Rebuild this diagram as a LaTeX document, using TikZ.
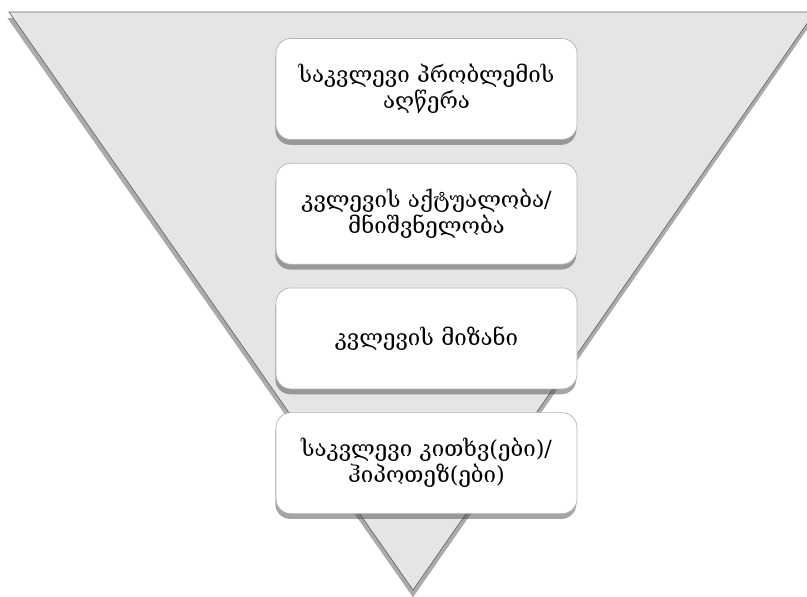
\documentclass[tikz,border=0pt]{standalone}
\usepackage{fontspec}
\newfontfamily\geofont{DejaVu Serif}
\usetikzlibrary{positioning,shadows}

\definecolor{funnelgray}{HTML}{E5E5E5}
\definecolor{funneledge}{HTML}{6A6A6A}
\definecolor{boxedge}{HTML}{B4B4B4}

\tikzset{
  stepbox/.style={draw=boxedge, line width=0.6pt, fill=white, rounded corners=0.45cm,
    minimum width=9.03cm, minimum height=3.03cm, align=center, text width=8.6cm,
    font=\geofont\fontsize{19}{22}\selectfont,
    drop shadow={shadow xshift=-0.02cm, shadow yshift=-0.16cm, opacity=0.5, fill=black!70}},
}

\begin{document}
\begin{tikzpicture}[x=0.03cm, y=-0.03cm]
\useasboundingbox (0,0) rectangle (807,597);
\clip (0,0) rectangle (807,597);

% funnel
\coordinate (tl) at (9,12);
\coordinate (tr) at (815,12);
\coordinate (tip) at (413,590);
\fill[black!60, opacity=0.55] ([xshift=-0.05cm, yshift=-0.18cm]tl) -- ([yshift=-0.18cm]tr) -- ([yshift=-0.22cm]tip) -- cycle;
\filldraw[fill=funnelgray, draw=funneledge, line width=0.6pt] (tl) -- (tr) -- (tip) -- cycle;

% boxes
\node[stepbox] (problem) at (426.5,89) {საკვლევი პრობლემის\\აღწერა};
\node[stepbox, below=0.69cm of problem] (relevance) {კვლევის აქტუალობა/\\მნიშვნელობა};
\node[stepbox, below=0.69cm of relevance] (aim) {კვლევის მიზანი};
\node[stepbox, below=0.69cm of aim] (questions) {საკვლევი კითხვ(ები)/\\ჰიპოთეზ(ები)};

\end{tikzpicture}
\end{document}
